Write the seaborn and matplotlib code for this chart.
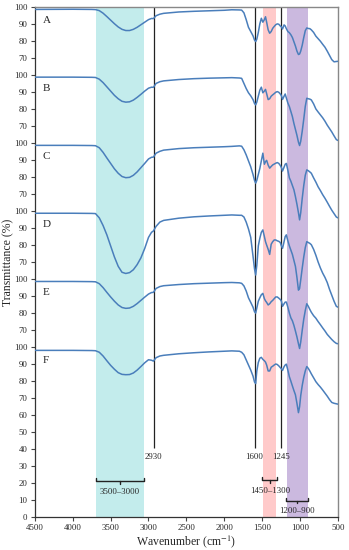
import numpy as np
import pandas as pd
import matplotlib
matplotlib.use("Agg")
import matplotlib.pyplot as plt
import seaborn as sns

# wavenumber grid (cm-1) shared by all spectra
wavenumber = [4500, 4000, 3750, 3700, 3650, 3600, 3550, 3500, 3450, 3400,
              3350, 3300, 3250, 3200, 3150, 3100, 3050, 3000, 2960, 2935,
              2900, 2850, 2800, 2600, 2400, 2200, 2000, 1900,
              1800, 1770, 1740, 1710, 1680, 1650, 1620, 1600, 1585, 1570,
              1550, 1530, 1510, 1490, 1470, 1455, 1440, 1420, 1400, 1380,
              1360, 1340, 1320, 1300, 1280, 1260, 1245, 1230, 1210, 1195,
              1180, 1160, 1140, 1120, 1100, 1080, 1060, 1040, 1020, 1005,
              990, 970, 950, 930, 910, 890, 870, 850, 820, 790,
              760, 730, 700, 670, 640, 610, 580, 550, 520, 500]

# transmittance (%)
sample_A = [98.5, 98.6, 98.5, 98.4, 97.8, 96.3, 94.3, 92.2, 90.1, 88.2,
            86.8, 86.1, 86.1, 86.8, 88.0, 89.5, 91.0, 92.5, 93.2, 93.1,
            94.8, 95.7, 96.2, 97.0, 97.4, 97.7, 98.0, 98.3,
            98.2, 98.1, 96.5, 92.5, 88.0, 85.5, 83.0, 80.5, 79.6, 81.0,
            85.0, 90.0, 93.3, 91.0, 92.5, 94.2, 91.0, 86.5, 84.5, 85.5,
            87.4, 88.5, 89.5, 90.0, 89.8, 88.8, 88.2, 87.0, 89.4, 88.8,
            87.2, 85.5, 84.8, 83.6, 82.0, 79.5, 77.0, 74.0, 72.0, 72.3,
            74.0, 77.5, 82.0, 86.0, 87.6, 87.3, 87.2, 86.5, 85.0, 82.8,
            81.3, 79.8, 78.0, 76.3, 74.0, 71.5, 69.0, 67.7, 67.9, 68.0]
sample_B = [98.7, 98.7, 98.6, 98.5, 97.5, 95.5, 93.0, 90.5, 88.0, 86.0,
            84.5, 84.0, 84.2, 85.2, 86.8, 88.6, 90.5, 92.2, 92.8, 92.7,
            95.0, 96.0, 96.5, 97.3, 97.8, 98.1, 98.3, 98.4,
            98.2, 98.0, 95.0, 92.0, 89.5, 87.7, 85.5, 83.2, 82.4, 84.0,
            87.5, 91.0, 92.8, 89.5, 90.5, 91.5, 89.0, 85.5, 86.0, 87.5,
            88.3, 89.0, 89.8, 90.2, 89.8, 88.8, 87.8, 85.6, 87.5, 88.8,
            86.5, 83.5, 81.4, 78.5, 75.5, 71.5, 68.0, 64.5, 60.5, 58.5,
            61.0, 67.0, 74.0, 81.5, 86.3, 86.0, 85.8, 85.3, 83.0, 80.0,
            78.2, 76.5, 74.8, 72.8, 70.5, 68.5, 66.5, 64.2, 62.0, 61.5]
sample_C = [98.6, 98.6, 98.5, 98.4, 97.2, 94.5, 91.2, 88.0, 84.8, 82.2,
            80.3, 79.6, 79.8, 81.0, 83.0, 85.5, 88.0, 90.6, 91.6, 91.7,
            94.0, 95.1, 95.8, 96.7, 97.2, 97.5, 97.8, 98.0,
            98.3, 98.1, 96.0, 93.0, 89.5, 86.0, 81.5, 78.0, 76.4, 78.0,
            81.5, 85.0, 89.5, 94.0, 87.5, 89.0, 89.8, 87.0, 85.2, 86.2,
            87.1, 87.6, 88.1, 88.5, 88.0, 86.8, 85.5, 83.5, 85.8, 87.5,
            88.0, 84.0, 79.5, 77.5, 75.0, 72.5, 68.5, 64.0, 59.0, 54.8,
            59.0, 67.5, 75.0, 81.0, 84.2, 83.7, 83.0, 82.2, 79.5, 77.0,
            74.2, 72.0, 69.6, 67.5, 65.2, 62.8, 60.5, 58.5, 56.5, 56.0]
sample_D = [98.7, 98.7, 98.6, 98.5, 96.0, 91.5, 86.0, 79.5, 73.0, 67.5,
            64.0, 63.3, 63.8, 65.5, 68.5, 72.5, 78.0, 84.5, 87.5, 88.3,
            91.0, 93.5, 94.5, 95.8, 96.6, 97.1, 97.5, 97.7,
            97.5, 97.5, 96.5, 93.5, 89.5, 84.5, 73.5, 66.0, 62.4, 68.0,
            79.5, 84.0, 87.5, 88.9, 85.0, 82.0, 80.0, 77.5, 74.5, 80.5,
            82.0, 83.0, 83.0, 82.5, 82.2, 81.5, 79.5, 78.1, 82.0, 85.0,
            86.0, 82.5, 79.5, 77.0, 74.5, 71.0, 67.5, 61.0, 53.5, 54.5,
            59.5, 66.5, 73.0, 78.5, 82.0, 81.5, 81.0, 80.2, 77.5, 74.0,
            70.0, 66.5, 63.5, 61.0, 58.0, 54.0, 50.5, 47.0, 44.0, 43.5]
sample_E = [98.6, 98.6, 98.5, 98.4, 97.3, 95.0, 92.2, 89.5, 87.0, 84.8,
            83.3, 82.8, 83.0, 84.0, 85.6, 87.5, 89.4, 91.2, 92.1, 92.2,
            94.5, 95.6, 96.1, 96.8, 97.3, 97.6, 97.9, 98.0,
            97.8, 97.5, 96.0, 93.0, 89.0, 86.3, 83.5, 80.8, 80.0, 83.0,
            87.0, 89.0, 90.8, 91.6, 88.5, 87.2, 86.3, 84.8, 85.5, 86.7,
            87.5, 88.5, 89.5, 89.5, 88.8, 88.0, 87.0, 84.0, 85.5, 86.5,
            86.5, 83.5, 80.0, 77.2, 75.5, 72.8, 69.5, 66.0, 62.0, 59.2,
            63.0, 70.0, 76.5, 81.5, 85.5, 84.0, 82.2, 80.5, 78.5, 77.0,
            75.0, 73.2, 71.3, 69.5, 67.5, 66.0, 64.5, 63.2, 62.2, 62.0]
sample_F = [98.1, 98.1, 98.0, 97.9, 97.0, 94.8, 92.0, 89.3, 87.0, 85.0,
            84.0, 83.8, 83.9, 84.8, 86.5, 88.6, 90.8, 92.6, 92.3, 91.8,
            93.8, 94.8, 95.2, 96.1, 96.7, 97.2, 97.6, 97.8,
            97.6, 97.0, 95.5, 92.5, 89.5, 86.5, 83.0, 79.5, 78.6, 86.0,
            91.0, 93.5, 94.0, 92.8, 92.0, 91.2, 89.5, 86.0, 86.0, 88.2,
            88.8, 89.5, 90.1, 89.8, 89.0, 88.0, 87.2, 86.3, 88.5, 89.5,
            90.0, 86.5, 82.6, 80.0, 77.2, 74.5, 72.0, 67.0, 61.5, 65.0,
            71.5, 77.5, 82.3, 86.0, 88.6, 87.5, 86.0, 84.3, 82.0, 79.7,
            78.0, 76.5, 74.8, 73.0, 71.2, 69.2, 67.5, 67.0, 66.7, 66.5]

samples = ["A", "B", "C", "D", "E", "F"]
offsets = [200, 160, 120, 80, 40, 0]

# marked bands and peaks
bands = [(3690, 3060, "#c3ecec"), (1490, 1310, "#ffcaca"), (1170, 890, "#cbb9df")]
peak_lines = [2930, 1600, 1245]
range_labels = ["3500\u20133000", "1450\u20131300", "1200\u2013900"]
range_spans = [(3690, 3060), (1495, 1302), (1178, 896)]
range_heights = [21.3, 22.0, 9.8]

df = pd.DataFrame({"wavenumber": wavenumber, "A": sample_A, "B": sample_B,
                   "C": sample_C, "D": sample_D, "E": sample_E, "F": sample_F})

sns.set_theme(style="ticks")
plt.rcParams['font.family'] = ['Liberation Serif', 'DejaVu Serif']
plt.rcParams['mathtext.fontset'] = 'stix'

fig = plt.figure(figsize=(3.49, 5.5), dpi=100)
ax = fig.add_axes([0.100, 0.0595, 0.868, 0.928])

for lo, hi, col in bands:
    ax.axvspan(hi, lo, color=col, lw=0, zorder=0)

for s, off in zip(samples, offsets):
    sns.lineplot(x=df["wavenumber"], y=df[s] + off, ax=ax, color="#4a7ebb",
                 lw=1.1, zorder=3)
    ax.text(4400, off + 92, s, fontsize=8, va="center", ha="left")

ax.vlines(peak_lines, 41, 300, color="#222222", lw=0.9, zorder=2)
for p in peak_lines:
    ax.text(p, 35.5, str(p), fontsize=6.3, ha="center", va="center")

# brackets under the bands
for lab, (x0, x1), yb in zip(range_labels, range_spans, range_heights):
    xc = (x0 + x1) / 2
    ax.plot([x0, x0, x1, x1], [yb + 1.6, yb, yb, yb + 1.6], color="#222222", lw=1.0)
    ax.plot([xc, xc], [yb, yb - 1.6], color="#222222", lw=1.0)
    ax.text(xc, yb - 6.3, lab, fontsize=6.3, ha="center", va="center")

# y ticks repeat for every stacked spectrum
ypos, ylab = [], []
for off in offsets:
    levels = range(0, 101, 10) if off == 0 else range(70, 101, 10)
    for l in levels:
        ypos.append(off + l)
        ylab.append(str(l))
ax.set_yticks(ypos)
ax.set_yticklabels(ylab)
ax.set_ylim(0, 300)

ax.set_xlim(4500, 500)
ax.set_xticks(list(range(4500, 499, -500)))
ax.tick_params(axis="both", labelsize=6.3, length=3, width=0.8, pad=1.5,
               color="#444444")
ax.tick_params(axis="y", pad=2.5)

ax.set_xlabel("Wavenumber (cm$^{-1}$)", fontsize=8.5, labelpad=1)
ax.set_ylabel("Transmittance (%)", fontsize=8.5)
ax.yaxis.set_label_coords(-0.068, 0.5)

for side in ["left", "bottom"]:
    ax.spines[side].set_color("#333333")
    ax.spines[side].set_linewidth(0.9)
for side in ["top", "right"]:
    ax.spines[side].set_color("#888888")
    ax.spines[side].set_linewidth(1.0)

fig.savefig("out.png", dpi=100)
